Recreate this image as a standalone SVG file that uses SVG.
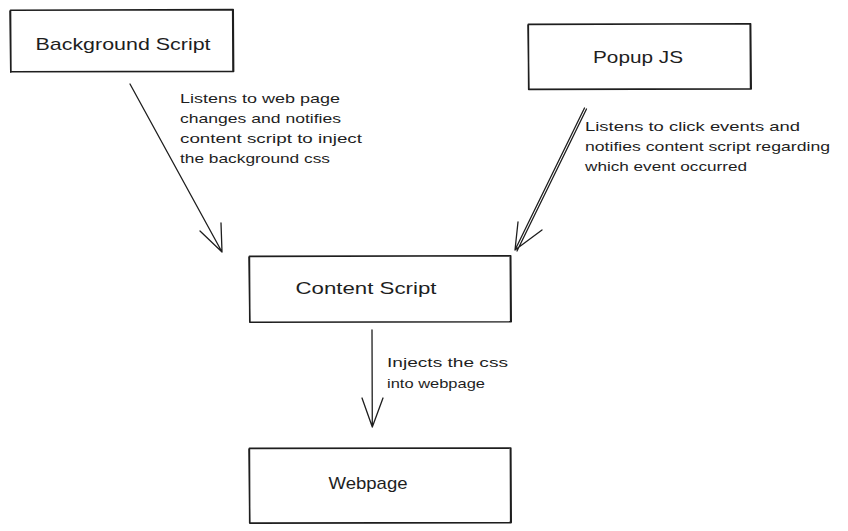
<svg xmlns="http://www.w3.org/2000/svg" width="848" height="531" viewBox="0 0 848 531">
<style>
.box{fill:none;stroke:#1e1e1e;stroke-width:1.6;stroke-linecap:round;stroke-linejoin:round}
.ln{fill:none;stroke:#1e1e1e;stroke-width:1.3;stroke-linecap:round;stroke-linejoin:round}
.nt{font-family:"Liberation Sans","DejaVu Sans",sans-serif;font-size:17px;fill:#1e1e1e;text-anchor:middle}
.lt{font-family:"Liberation Sans","DejaVu Sans",sans-serif;font-size:13.5px;fill:#1e1e1e}
</style>
<rect width="848" height="531" fill="#ffffff"/>
<g id="background-script">
<path class="box" d="M10.5 10.2 L233.2 9.6 L233.6 71.4 L10.9 71.8 Z M10 11 L10.8 72.3 M232.7 10.4 L233 70.6"/>
<text class="nt" x="123" y="50" textLength="175" lengthAdjust="spacingAndGlyphs">Background Script</text>
</g>
<g id="popup-js">
<path class="box" d="M528.3 24.4 L750.6 23.8 L751.2 88.9 L528.7 89.4 Z M528 25 L528.9 88.4 M750.2 24.6 L750.6 88.2"/>
<text class="nt" x="638" y="63" textLength="90" lengthAdjust="spacingAndGlyphs">Popup JS</text>
</g>
<g id="content-script">
<path class="box" d="M249.4 256.4 L510.7 255.8 L511.2 321.7 L249.8 322.2 Z M249 257 L249.9 321.3 M510.3 256.6 L510.7 321"/>
<text class="nt" x="366" y="294" textLength="141" lengthAdjust="spacingAndGlyphs">Content Script</text>
</g>
<g id="webpage">
<path class="box" d="M249.4 448.4 L510.8 448 L511.2 522.6 L249.7 523.1 Z M249 449 L249.8 522.3 M510.4 448.7 L510.7 522"/>
<text class="nt" x="368" y="489" textLength="79" lengthAdjust="spacingAndGlyphs">Webpage</text>
</g>
<g id="connectors">
<path class="ln" d="M130 84 L222 252 M200 231 L222 252 L221 223"/>
<path class="ln" d="M584.5 108 L515 250 M586.5 109 L517 251 M518 222 L515 250 L542 230"/>
<path class="ln" d="M372 330 L372.3 427 M362 398 L372.3 427 L383 398"/>
</g>
<g id="labels">
<text class="lt" x="180" y="103" textLength="160" lengthAdjust="spacingAndGlyphs">Listens to web page</text>
<text class="lt" x="180" y="123" textLength="161" lengthAdjust="spacingAndGlyphs">changes and notifies</text>
<text class="lt" x="180" y="143" textLength="182" lengthAdjust="spacingAndGlyphs">content script to inject</text>
<text class="lt" x="180" y="163" textLength="150" lengthAdjust="spacingAndGlyphs">the background css</text>
<text class="lt" x="585" y="131" textLength="215" lengthAdjust="spacingAndGlyphs">Listens to click events and</text>
<text class="lt" x="585" y="151" textLength="245" lengthAdjust="spacingAndGlyphs">notifies content script regarding</text>
<text class="lt" x="585" y="171" textLength="162" lengthAdjust="spacingAndGlyphs">which event occurred</text>
<text class="lt" x="387" y="367" textLength="121" lengthAdjust="spacingAndGlyphs">Injects the css</text>
<text class="lt" x="387" y="388" textLength="98" lengthAdjust="spacingAndGlyphs">into webpage</text>
</g>
</svg>
